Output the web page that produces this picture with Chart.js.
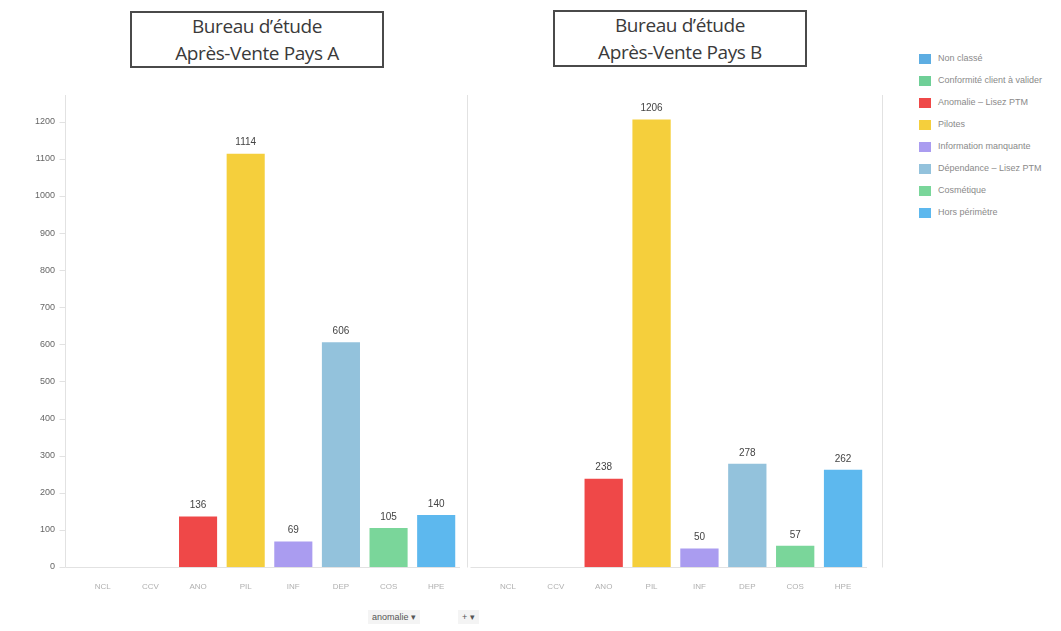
<!DOCTYPE html>
<html>
<head>
<meta charset="utf-8">
<script src="https://cdn.jsdelivr.net/npm/chart.js@4.4.1/dist/chart.umd.min.js"></script>
<style>
  body { margin: 0; background: #fff; width: 1061px; height: 631px; overflow: hidden; position: relative; font-family: "Liberation Sans", Arial, sans-serif; }
  .box { position: absolute; width: 250px; height: 53px; border: 2px solid #4a4a4a; text-align: center;
         font-family: "Open Sans", sans-serif; font-size: 19px; letter-spacing: -0.4px; line-height: 27px; color: #3a3a3a; }
  canvas { position: absolute; top: 0; }
  #legend { position: absolute; left: 919px; top: 52px; width: 142px; overflow: hidden; }
  #legend div { height: 22px; white-space: nowrap; font-size: 9px; color: #8a8a8a; line-height: 12px; }
  #legend span { display: inline-block; width: 12px; height: 10px; vertical-align: middle; margin-right: 7px; }
  .ctrl { position: absolute; top: 610px; font-size: 9px; color: #555; background: #f4f4f4; padding: 2px 4px; }
</style>
</head>
<body>
<div class="box" style="left:130px; top:11px;">Bureau d’étude<br>Après-Vente Pays A</div>
<div class="box" style="left:553px; top:10px;">Bureau d’étude<br>Après-Vente Pays B</div>
<canvas id="chartA" width="470" height="600" style="left:0px;"></canvas>
<canvas id="chartB" width="420" height="600" style="left:470px;"></canvas>
<div id="legend"></div>
<div class="ctrl" style="left:368px;">anomalie &#9662;</div>
<div class="ctrl" style="left:458px;">+ &#9662;</div>
<script>
// Categories (x labels are short codes, legend shows full names)
const categoryCodes = ['NCL', 'CCV', 'ANO', 'PIL', 'INF', 'DEP', 'COS', 'HPE'];
const categoryNames = [
    'Non classé',
    'Conformité client à valider',
    'Anomalie – Lisez PTM',
    'Pilotes',
    'Information manquante',
    'Dépendance – Lisez PTM',
    'Cosmétique',
    'Hors périmètre'
];
const categoryColors = ['#5dade2', '#6fcf97', '#ef4848', '#f5cf3c', '#aa9cf0', '#93c2dc', '#7ad69a', '#5db8ee'];

const paysA = [0, 0, 136, 1114, 69, 606, 105, 140];
const paysB = [0, 0, 238, 1206, 50, 278, 57, 262];

const yMax = 1272;

// value labels above bars
const valueLabels = {
    id: 'valueLabels',
    afterDatasetsDraw(chart) {
        const c = chart.ctx;
        c.save();
        c.font = '10px "Liberation Sans", Arial, sans-serif';
        c.fillStyle = '#444';
        c.textAlign = 'center';
        c.textBaseline = 'bottom';
        chart.getDatasetMeta(0).data.forEach((bar, i) => {
            const v = chart.data.datasets[0].data[i];
            if (v > 0) c.fillText(v, bar.x, bar.y - 6);
        });
        c.restore();
    }
};

// light frame around plot, offsets set per chart (+ small tick marks on the left line)
const frame = {
    id: 'frame',
    beforeDatasetsDraw(chart, args, opts) {
        const a = chart.chartArea, c = chart.ctx;
        const l = Math.round(a.left - opts.left) + 0.5;
        const r = Math.round(a.right + opts.right) + 0.5;
        const b = Math.round(a.bottom) + 0.5;
        c.save();
        c.strokeStyle = '#e2e2e2';
        c.lineWidth = 1;
        c.beginPath();
        if (opts.drawLeft) {
            c.moveTo(l, a.top); c.lineTo(l, b);
            const ys = chart.scales.y;
            ys.ticks.forEach(t => {
                const y = Math.round(ys.getPixelForValue(t.value)) + 0.5;
                c.moveTo(l - 6, y); c.lineTo(l, y);
            });
        }
        c.moveTo(l, b);
        c.lineTo(a.right, b);
        c.moveTo(r, a.top);
        c.lineTo(r, b);
        c.stroke();
        c.restore();
    }
};

function makeChart(id, values, showY, padding, yWidth, frameOpts) {
    return new Chart(document.getElementById(id), {
        type: 'bar',
        data: {
            labels: categoryCodes,
            datasets: [{
                data: values,
                backgroundColor: categoryColors,
                categoryPercentage: 1,
                barPercentage: 0.8
            }]
        },
        options: {
            responsive: false,
            animation: false,
            layout: { padding: padding },
            plugins: { legend: { display: false }, tooltip: { enabled: false }, frame: frameOpts },
            scales: {
                x: {
                    grid: { display: false },
                    border: { display: false },
                    ticks: { color: '#b0b0b0', font: { size: 8 }, padding: 7 },
                    afterFit(scale) { scale.height = 33; }
                },
                y: {
                    display: showY,
                    min: 0,
                    max: yMax,
                    border: { display: false },
                    grid: { display: false, drawTicks: false },
                    ticks: {
                        stepSize: 100, color: '#666', font: { size: 9 }, padding: 24,
                        callback: (v) => String(v)
                    },
                    afterBuildTicks(axis) { axis.ticks = axis.ticks.filter(t => t.value % 100 === 0); },
                    afterFit(scale) { scale.width = yWidth; }
                }
            }
        },
        plugins: [valueLabels, frame]
    });
}

makeChart('chartA', paysA, true, { top: 95, left: 0, right: 10, bottom: 0 }, 79,
    { left: 14, right: 7, drawLeft: true });
makeChart('chartB', paysB, false, { top: 95, left: 14, right: 23, bottom: 0 }, 0,
    { left: 14, right: 15, drawLeft: false });

// legend built from categories
const legend = document.getElementById('legend');
categoryNames.forEach((name, i) => {
    const row = document.createElement('div');
    row.innerHTML = '<span style="background:' + categoryColors[i] + '"></span>' + name;
    legend.appendChild(row);
});
</script>
</body>
</html>
